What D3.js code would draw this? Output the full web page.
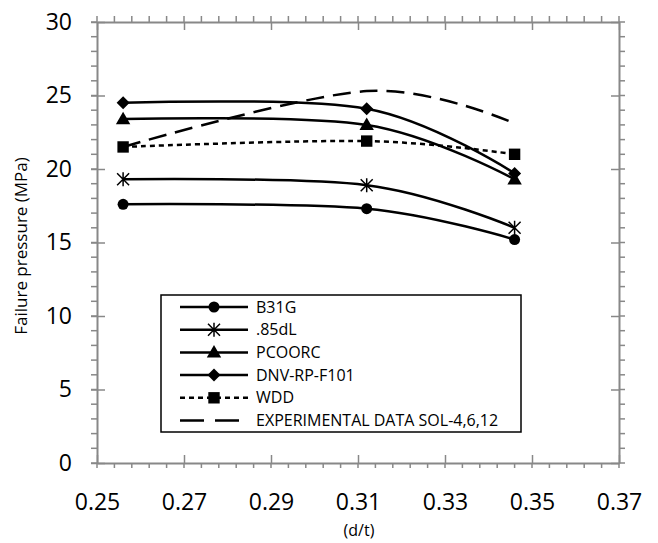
<!DOCTYPE html>
<html>
<head>
<meta charset="utf-8">
<script src="https://cdn.jsdelivr.net/npm/d3@7"></script>
<style>
  body { margin: 0; background: #fff; }
  svg { font-family: "Open Sans", sans-serif; }
</style>
</head>
<body>
<svg id="chart" width="658" height="543"></svg>
<script>
// values
var dt = [0.256, 0.312, 0.346];
var b31g = [17.6, 17.3, 15.2];
var dl85 = [19.3, 18.9, 16.0];
var pcoorc = [23.4, 23.0, 19.3];
var dnv = [24.5, 24.1, 19.7];
var wdd = [21.5, 21.9, 21.0];
var experimental = [21.5, 25.3, 23.1];
var xTicks = [0.25, 0.27, 0.29, 0.31, 0.33, 0.35, 0.37];
var yTicks = [0, 5, 10, 15, 20, 25, 30];

var series = [
  {name: "B31G", values: b31g, marker: "circle", dash: null},
  {name: ".85dL", values: dl85, marker: "star", dash: null},
  {name: "PCOORC", values: pcoorc, marker: "triangle", dash: null},
  {name: "DNV-RP-F101", values: dnv, marker: "diamond", dash: null},
  {name: "WDD", values: wdd, marker: "square", dash: "5,4"},
  {name: "EXPERIMENTAL DATA SOL-4,6,12", values: experimental, marker: null, dash: "18,9"}
];

var svg = d3.select("#chart");
var mLeft = 97, mRight = 619, mTop = 22, mBottom = 463;
var axisColor = "#888";

var x = d3.scaleLinear().domain([0.25, 0.37]).range([mLeft, mRight]);
var y = d3.scaleLinear().domain([0, 30]).range([mBottom, mTop]);

// minor ticks (outside)
var xMinor = d3.range(0.25, 0.3701, 0.004);
var yMinor = d3.range(0, 30.01, 1);
var g = svg.append("g");
g.selectAll(".mxb").data(xMinor).enter().append("line")
  .attr("x1", function(d){ return x(d); }).attr("x2", function(d){ return x(d); })
  .attr("y1", mBottom).attr("y2", mBottom + 5);
g.selectAll(".mxt").data(xMinor).enter().append("line")
  .attr("x1", function(d){ return x(d); }).attr("x2", function(d){ return x(d); })
  .attr("y1", mTop).attr("y2", mTop - 6);
g.selectAll(".myl").data(yMinor).enter().append("line")
  .attr("y1", function(d){ return y(d); }).attr("y2", function(d){ return y(d); })
  .attr("x1", mLeft).attr("x2", mLeft - 6);
g.selectAll(".myr").data(yMinor).enter().append("line")
  .attr("y1", function(d){ return y(d); }).attr("y2", function(d){ return y(d); })
  .attr("x1", mRight).attr("x2", mRight + 6);
g.selectAll("line").attr("stroke", axisColor).attr("stroke-width", 1.5);

// major axes
var xAxisB = svg.append("g").attr("transform", "translate(0," + mBottom + ")")
  .call(d3.axisBottom(x).tickValues(xTicks).tickSizeInner(-8).tickSizeOuter(0).tickPadding(31).tickFormat(d3.format(".2f")));
var xAxisT = svg.append("g").attr("transform", "translate(0," + mTop + ")")
  .call(d3.axisTop(x).tickValues(xTicks).tickSizeInner(-8).tickSizeOuter(0).tickFormat(""));
var yAxisL = svg.append("g").attr("transform", "translate(" + mLeft + ",0)")
  .call(d3.axisLeft(y).tickValues(yTicks).tickSizeInner(-8).tickSizeOuter(0).tickPadding(25));
yAxisL.selectAll(".tick line").attr("x1", -6);
var yAxisR = svg.append("g").attr("transform", "translate(" + mRight + ",0)")
  .call(d3.axisRight(y).tickValues(yTicks).tickSizeInner(-8).tickSizeOuter(0).tickFormat(""));

[xAxisB, xAxisT, yAxisL, yAxisR].forEach(function(a){
  a.select(".domain").attr("stroke", axisColor).attr("stroke-width", 2);
  a.selectAll(".tick line").attr("stroke", axisColor).attr("stroke-width", 1.5);
  a.selectAll("text").attr("fill", "#000").style("font-size", "23px").style("font-family", "'Open Sans', sans-serif");
});

// axis titles
svg.append("text").attr("x", 359).attr("y", 536).attr("text-anchor", "middle")
  .style("font-size", "16px").text("(d/t)");
svg.append("text").attr("transform", "translate(27,246) rotate(-90)")
  .attr("text-anchor", "middle").style("font-size", "17px").text("Failure pressure  (MPa)");

// lines
var line = d3.line()
  .x(function(d, i){ return x(dt[i]); })
  .y(function(d){ return y(d); })
  .curve(d3.curveCardinal.tension(0));

function drawMarker(sel, type, cx, cy) {
  if (type === "circle") {
    sel.append("circle").attr("cx", cx).attr("cy", cy).attr("r", 5.5).attr("fill", "#000");
  } else if (type === "star") {
    var s = 6;
    sel.append("path")
      .attr("d", "M" + (cx - s) + "," + (cy - s) + "L" + (cx + s) + "," + (cy + s) +
        "M" + (cx - s) + "," + (cy + s) + "L" + (cx + s) + "," + (cy - s) +
        "M" + cx + "," + (cy - s - 1) + "L" + cx + "," + (cy + s + 1))
      .attr("stroke", "#000").attr("stroke-width", 1.5).attr("fill", "none");
  } else if (type === "diamond") {
    var r = 6.5;
    sel.append("path")
      .attr("d", "M" + cx + "," + (cy - r) + "L" + (cx + r) + "," + cy + "L" + cx + "," + (cy + r) + "L" + (cx - r) + "," + cy + "Z")
      .attr("fill", "#000");
  } else {
    var sym = type === "triangle" ? d3.symbolTriangle : d3.symbolSquare;
    var size = type === "triangle" ? 90 : 130;
    sel.append("path").attr("d", d3.symbol().type(sym).size(size)())
      .attr("transform", "translate(" + cx + "," + (type === "triangle" ? cy + 1 : cy) + ")").attr("fill", "#000");
  }
}

var plot = svg.append("g");
series.forEach(function(s){
  plot.append("path").datum(s.values)
    .attr("d", line)
    .attr("fill", "none").attr("stroke", "#000").attr("stroke-width", 2.5)
    .attr("stroke-dasharray", s.dash);
});
series.forEach(function(s){
  if (!s.marker) return;
  s.values.forEach(function(v, i){
    drawMarker(plot, s.marker, x(dt[i]), y(v));
  });
});

// legend
var lg = svg.append("g");
lg.append("rect").attr("x", 161).attr("y", 295).attr("width", 360).attr("height", 137)
  .attr("fill", "#fff").attr("stroke", "#000").attr("stroke-width", 1.5);
series.forEach(function(s, i){
  var ly = 307 + i * 22.7;
  lg.append("line").attr("x1", 180).attr("x2", 248).attr("y1", ly).attr("y2", ly)
    .attr("stroke", "#000").attr("stroke-width", 2.5)
    .attr("stroke-dasharray", s.dash ? (s.marker ? "5,4" : "24,11") : null);
  if (s.marker) drawMarker(lg, s.marker, 214, ly);
  lg.append("text").attr("x", 256).attr("y", ly).attr("dy", "0.35em")
    .style("font-size", "16px").text(s.name);
});
</script>
</body>
</html>
